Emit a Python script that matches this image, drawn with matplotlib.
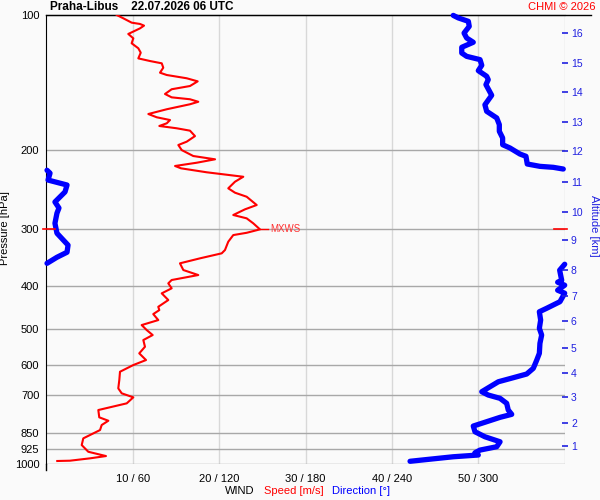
import matplotlib
matplotlib.use("Agg")
import matplotlib.pyplot as plt
from matplotlib.ticker import NullLocator
from matplotlib.transforms import blended_transform_factory
import numpy as np

plt.rcParams['font.family'] = ['Liberation Sans', 'DejaVu Sans']

# wind speed profile (m/s) vs pressure (hPa)
speed_p = [100.0, 101.7, 104.0, 104.7, 105.6, 107.1, 110.2, 112.7, 115.6, 118.6,
           121.3, 124.9, 126.6, 128.1, 131.0, 134.4, 136.0, 138.3, 140.5, 143.9,
           146.3, 149.9, 152.5, 154.0, 156.0, 158.0, 162.1, 166.1, 168.9, 171.3,
           174.2, 176.6, 178.7, 180.9, 186.0, 191.4, 194.7, 199.8, 206.0, 209.5,
           213.2, 216.8, 219.4, 223.9, 229.1, 235.0, 243.1, 248.6, 253.8, 264.8,
           270.7, 278.7, 283.5, 290.9, 300.0, 305.3, 308.9, 319.6, 333.5, 339.2,
           348.0, 357.0, 369.5, 379.1, 388.9, 395.6, 405.8, 416.4, 430.9, 446.1,
           453.7, 463.1, 477.5, 489.9, 502.6, 515.6, 529.0, 547.5, 566.3, 586.1,
           601.3, 622.3, 649.4, 677.6, 695.1, 709.5, 731.7, 757.2, 786.1, 799.9,
           817.7, 839.0, 875.5, 906.1, 937.8, 958.6, 969.9, 981.7, 983.2]
speed = [8.15, 8.91, 9.88, 10.84, 11.31, 10.84, 9.49, 10.07, 9.88, 10.65,
         10.93, 10.65, 12.00, 13.36, 13.54, 13.16, 13.94, 16.25, 17.52, 16.63,
         14.51, 13.74, 14.51, 16.63, 17.59, 16.63, 13.94, 11.81, 12.78, 14.32,
         13.94, 13.08, 15.09, 16.63, 17.21, 16.25, 15.28, 15.67, 17.01, 19.53,
         17.41, 14.90, 15.59, 18.56, 22.80, 21.84, 21.06, 21.84, 23.19, 24.35,
         23.00, 21.64, 23.19, 23.96, 24.73, 23.19, 21.64, 21.06, 20.68, 20.30,
         17.79, 15.47, 15.86, 17.59, 14.51, 14.12, 14.51, 13.36, 14.12, 12.96,
         13.08, 12.38, 12.96, 11.04, 11.62, 12.31, 11.23, 11.42, 10.76, 11.54,
         10.07, 8.53, 8.45, 8.33, 8.73, 10.07, 9.31, 6.02, 6.13, 7.18,
         6.41, 6.22, 4.28, 4.10, 4.86, 6.91, 5.06, 2.74, 1.27]

# wind direction profile (deg) vs pressure (hPa)
dir_p = [100.2, 101.5, 103.3, 106.0, 109.7, 112.5, 115.0, 118.0, 121.5, 123.6,
         125.7, 129.4, 133.0, 136.9, 139.3, 142.9, 150.9, 158.4, 163.8, 169.5,
         175.4, 181.5, 187.8, 194.4, 197.7, 203.9, 206.3, 214.6, 217.2, 218.3,
         220.2,
         221.6, 224.9, 233.0, 239.0, 247.6, 260.7, 268.9, 276.1, 290.8, 306.0,
         325.2, 337.3, 346.1, 357.0,
         358.7, 369.8, 389.3, 393.3, 399.4, 409.8, 416.1, 434.6, 449.5, 457.6,
         477.5, 498.2, 515.6, 538.1, 566.3, 586.1, 611.5, 629.6, 641.6, 655.1,
         672.1, 689.4, 701.2, 713.2, 731.7, 757.2, 774.1, 786.1, 803.9, 822.0,
         846.4, 868.4, 891.0, 913.9, 929.7, 942.6, 953.5, 962.1, 974.1, 984.7]
direction = [282.6, 286.1, 293.1, 293.7, 290.1, 291.9, 296.5, 288.5, 288.5, 291.9,
             301.2, 302.4, 300.0, 305.8, 306.9, 305.3, 309.3, 304.6, 305.8, 312.8,
             314.6, 314.6, 316.9, 316.9, 322.0, 328.9, 333.1, 334.0, 342.8, 352.1,
             359.0,
             0.5, 2.6, 1.2, 14.4, 13.0, 6.0, 8.8, 7.4, 6.0, 7.4,
             15.1, 14.4, 7.4, 0.5,
             360.0, 356.5, 357.9, 355.1, 360.0, 355.1, 360.0, 356.7, 347.5, 342.4,
             343.3, 342.4, 344.0, 342.8, 342.4, 340.6, 338.2, 333.6, 324.3, 313.9,
             308.1, 302.4, 306.9, 315.1, 319.7, 320.8, 323.2, 315.1, 305.8, 296.5,
             297.7, 304.6, 315.1, 312.8, 301.2, 297.7, 300.0, 282.6, 266.5, 252.6]

p_levels = [100, 200, 300, 400, 500, 600, 700, 850, 925, 1000]
x_ticks = [10, 20, 30, 40, 50]
x_labels = ['10 / 60', '20 / 120', '30 / 180', '40 / 240', '50 / 300']

alt_km = [1, 2, 3, 4, 5, 6, 7, 8, 9, 10, 11, 12, 13, 14, 15, 16]
alt_p = [912.0, 809.1, 708.2, 626.1, 550.8, 480.3, 422.6, 368.5, 317.1, 274.2,
         235.1, 200.6, 173.1, 148.4, 127.9, 109.8]

BG = '#fafafa'
BLUE = '#0000ff'
ALT_BLUE = '#2020e0'

fig = plt.figure(figsize=(6, 5), dpi=100, facecolor=BG)
ax = fig.add_axes([46.3 / 600, 1 - 464.3 / 500, (564.7 - 46.3) / 600, 449.3 / 500])
ax.set_facecolor(BG)

ax.set_yscale('log')
ax.set_ylim(1000, 100)
ax.set_xlim(0, 60)
ax.yaxis.set_minor_locator(NullLocator())
ax.set_yticks(p_levels)
ax.set_yticklabels([str(p) for p in p_levels])
ax.set_xticks(x_ticks)
ax.set_xticklabels(x_labels)
ax.tick_params(axis='both', length=0, labelsize=8)
ax.tick_params(axis='y', pad=5)
ax.tick_params(axis='x', pad=7)

# grid
for p in p_levels[1:]:
    ax.axhline(p, color='#a8a8a8', lw=1, zorder=1)
for x in x_ticks + [60]:
    ax.axvline(x, color='#d8d8d8', lw=1, zorder=0)

for s in ['right', 'bottom']:
    ax.spines[s].set_visible(False)
ax.spines['left'].set_color('black')
ax.spines['top'].set_color('black')
ax.plot([0, 1.05], [1, 1], transform=ax.transAxes, color='black', lw=1, clip_on=False)
ax.plot([0, 0], [0, -0.013], transform=ax.transAxes, color='black', lw=1, clip_on=False)

# direction, wrapped at 360 deg
d = np.array(direction, dtype=float)
dp = np.array(dir_p, dtype=float)
breaks = np.where(np.abs(np.diff(d)) > 180)[0] + 1
for seg_d, seg_p in zip(np.split(d, breaks), np.split(dp, breaks)):
    ax.plot(seg_d / 6.0, seg_p, color=BLUE, lw=3.8, solid_capstyle='round',
            solid_joinstyle='round', zorder=3, clip_on=False)

# speed
ax.plot(speed, speed_p, color='red', lw=1.5, solid_joinstyle='round', zorder=4)

# max wind
i_max = int(np.argmax(speed))
mx_s, mx_p = speed[i_max], speed_p[i_max]
ax.plot([mx_s, mx_s + 0.9], [mx_p, mx_p], color='red', lw=1, zorder=4)
ax.text(mx_s + 1.2, mx_p, 'MXWS', color='#ff3030', fontsize=7, va='center', ha='left')
tr = blended_transform_factory(ax.transAxes, ax.transData)
ax.plot([-0.006, 0.016], [mx_p, mx_p], transform=tr, color='red', lw=1.2, clip_on=False, zorder=6)
ax.plot([0.98, 1.004], [mx_p, mx_p], transform=tr, color='red', lw=1.2, clip_on=False, zorder=6)

# altitude axis
ax2 = ax.twinx()
ax2.set_yscale('log')
ax2.set_ylim(1000, 100)
ax2.yaxis.set_minor_locator(NullLocator())
ax2.set_yticks(alt_p)
ax2.set_yticklabels([str(a) for a in alt_km])
ax2.tick_params(axis='y', direction='inout', length=5, width=1.2, colors=ALT_BLUE,
                labelsize=7.5, pad=2)
for s in ax2.spines.values():
    s.set_visible(False)
ax2.set_ylabel('Altitude [km]', color=ALT_BLUE, fontsize=8, rotation=-90, labelpad=2, va='bottom')
ax2.yaxis.set_label_coords(1.046, 0.53)

ax.set_ylabel('Pressure [hPa]', fontsize=8)
ax.yaxis.set_label_coords(-0.07, 0.525)

# titles and axis label
fig.text(50 / 600, 1 - 7.5 / 500, 'Praha-Libus    22.07.2026 06 UTC', fontsize=8.5,
         fontweight='bold', ha='left', va='center')
fig.text(596 / 600, 1 - 7 / 500, 'CHMI © 2026', fontsize=8, color='red', ha='right', va='center')
fig.text(225 / 600, 1 - 491 / 500, 'WIND', fontsize=8, color='black', ha='left', va='center')
fig.text(264 / 600, 1 - 491 / 500, 'Speed [m/s]', fontsize=8, color='red', ha='left', va='center')
fig.text(332 / 600, 1 - 491 / 500, 'Direction [°]', fontsize=8, color=BLUE, ha='left', va='center')

fig.savefig('out.png', dpi=100, facecolor=BG)
